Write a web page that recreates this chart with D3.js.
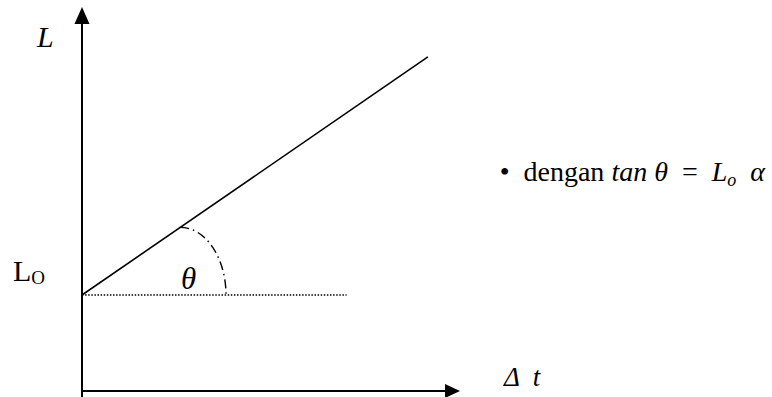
<!DOCTYPE html>
<html>
<head>
<meta charset="utf-8">
<script src="https://cdn.jsdelivr.net/npm/d3@7"></script>
<style>
  body { margin: 0; background: #fff; }
  svg { display: block; }
  text { font-family: "Liberation Serif", "Times New Roman", serif; fill: #000; white-space: pre; }
</style>
</head>
<body>
<div id="chart"></div>
<script>
// values in chart units (x = Δt, y = L)
var axisX = [0, 10];          // x axis domain (origin -> arrow tip)
var axisY = [0, 10];          // y axis domain (origin -> arrow tip)
var lineX = [0, 9.15];        // L = Lo + ... line
var lineY = [2.5, 8.7];
var baseX = [0, 7];           // dotted horizontal through Lo
var baseY = [2.5, 2.5];
var arcX = [2.6, 3.81];       // angle arc: from line to baseline
var labels = ["L", "Lo", "θ", "Δ  t"];

var width = 772, height = 397;

var svg = d3.select("#chart").append("svg")
    .attr("width", width)
    .attr("height", height);

var xScale = d3.scaleLinear().domain(axisX).range([82, 460]);
var yScale = d3.scaleLinear().domain(axisY).range([391, 7]);

var x0 = xScale(0), y0 = yScale(0);

// axes
svg.append("line")
    .attr("x1", x0).attr("x2", x0)
    .attr("y1", height).attr("y2", yScale(axisY[1]) + 16)
    .attr("stroke", "#000").attr("stroke-width", 2);

svg.append("line")
    .attr("x1", x0 - 1).attr("x2", xScale(axisX[1]) - 14)
    .attr("y1", y0).attr("y2", y0)
    .attr("stroke", "#000").attr("stroke-width", 2);

// arrow heads
var ty = yScale(axisY[1]);
svg.append("path")
    .attr("d", "M" + x0 + "," + ty + "L" + (x0 - 7.5) + "," + (ty + 17) + "L" + (x0 + 7.5) + "," + (ty + 17) + "Z")
    .attr("fill", "#000");

var tx = xScale(axisX[1]);
svg.append("path")
    .attr("d", "M" + tx + "," + y0 + "L" + (tx - 15) + "," + (y0 - 7) + "L" + (tx - 15) + "," + (y0 + 7) + "Z")
    .attr("fill", "#000");

// main line
var line = d3.line()
    .x(function(d) { return xScale(d[0]); })
    .y(function(d) { return yScale(d[1]); });

svg.append("path")
    .attr("d", line(d3.zip(lineX, lineY)))
    .attr("fill", "none")
    .attr("stroke", "#000")
    .attr("stroke-width", 1.6);

// dotted baseline
svg.append("path")
    .attr("d", line(d3.zip(baseX, baseY)))
    .attr("fill", "none")
    .attr("stroke", "#000")
    .attr("stroke-width", 1.5)
    .attr("stroke-dasharray", "1.5,1.6");

// angle arc (quarter ellipse, dash-dot)
var slope = (lineY[1] - lineY[0]) / (lineX[1] - lineX[0]);
var arcTopY = lineY[0] + slope * (arcX[0] - lineX[0]);
var rx = xScale(arcX[1]) - xScale(arcX[0]);
var ry = yScale(baseY[0]) - yScale(arcTopY);
svg.append("path")
    .attr("d", "M" + xScale(arcX[0]) + "," + yScale(arcTopY) +
        "A" + rx + "," + ry + " 0 0 1 " + xScale(arcX[1]) + "," + yScale(baseY[0]))
    .attr("fill", "none")
    .attr("stroke", "#000")
    .attr("stroke-width", 1.4)
    .attr("stroke-dasharray", "9,4,1.5,4");

// labels
svg.append("text")
    .attr("x", 37).attr("y", 47)
    .style("font-size", "30px").style("font-style", "italic")
    .text(labels[0]);

var lo = svg.append("text")
    .attr("x", 13).attr("y", 281)
    .style("font-size", "30px");
lo.append("tspan").text(labels[1][0]);
lo.append("tspan").attr("dy", 3).style("font-size", "19px").text(labels[1][1].toUpperCase());

svg.append("text")
    .attr("x", 181).attr("y", 289)
    .style("font-size", "31px").style("font-style", "italic")
    .text(labels[2]);

svg.append("text")
    .attr("x", 504).attr("y", 386)
    .style("font-size", "27px").style("font-style", "italic")
    .text(labels[3]);

// formula
var f = svg.append("text")
    .attr("x", 765).attr("y", 181)
    .attr("text-anchor", "end")
    .style("font-size", "28px");
f.append("tspan").text("•  dengan ");
f.append("tspan").style("font-style", "italic").text("tan θ  ");
f.append("tspan").text("=  ");
f.append("tspan").style("font-style", "italic").text("L");
f.append("tspan").attr("dy", 5).style("font-style", "italic").style("font-size", "18px").text("o");
f.append("tspan").attr("dy", -5).style("font-style", "italic").text("  α");
</script>
</body>
</html>
